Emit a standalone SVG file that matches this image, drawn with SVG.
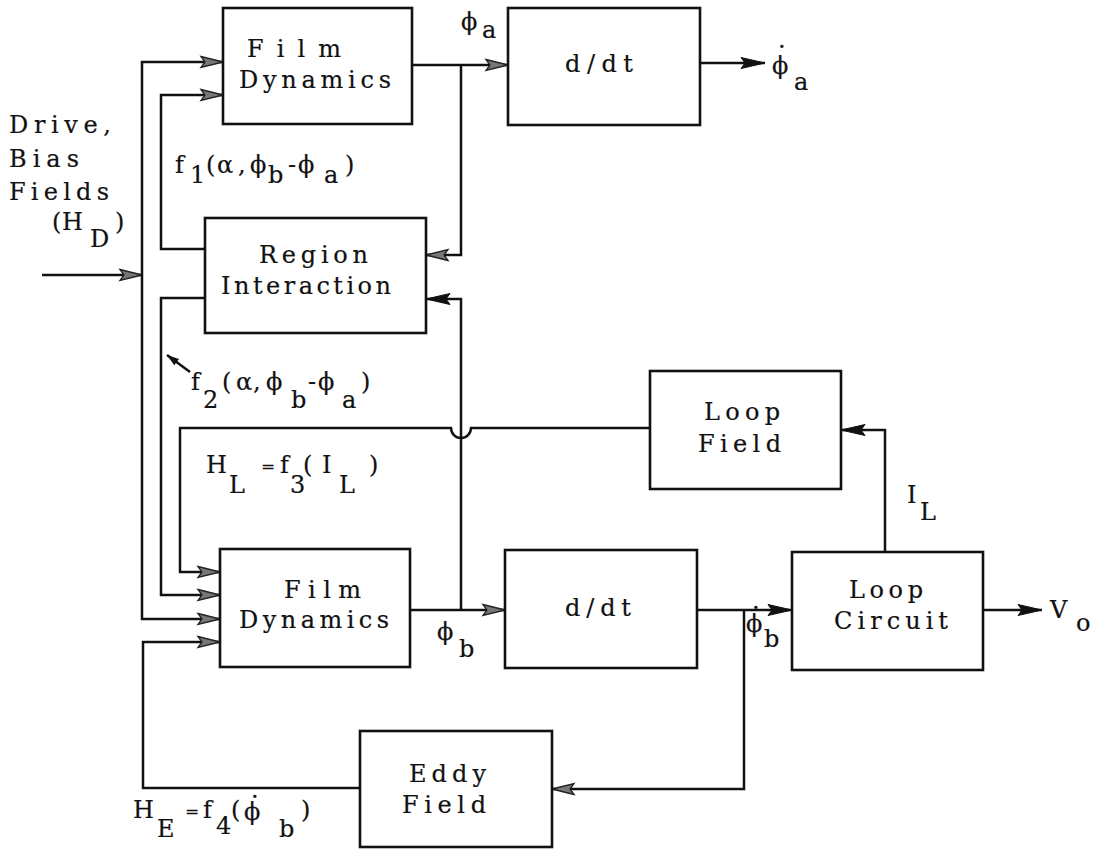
<svg xmlns="http://www.w3.org/2000/svg" width="1100" height="849" viewBox="0 0 1100 849">
<style>
.box{fill:none;stroke:#111;stroke-width:2.6}
.ln{fill:none;stroke:#111;stroke-width:2.5}
.ga{marker-end:url(#ag)}
.ba{marker-end:url(#ab)}
.t{font-family:"DejaVu Serif","Liberation Serif",serif;font-size:24px;fill:#111;stroke:#111;stroke-width:0.2}
.eq{font-size:17px}
</style>
<defs>
<marker id="ag" markerUnits="userSpaceOnUse" markerWidth="24" markerHeight="14" refX="22" refY="6" orient="auto" overflow="visible">
<path d="M0,0.5 L22,6 L0,11.5 L4,6 z" fill="#777" stroke="#222" stroke-width="1.3"/>
</marker>
<marker id="ab" markerUnits="userSpaceOnUse" markerWidth="26" markerHeight="14" refX="24" refY="6" orient="auto" overflow="visible">
<path d="M0,0.5 L24,6 L0,11.5 L4,6 z" fill="#111" stroke="#111" stroke-width="1"/>
</marker>
<marker id="as" markerUnits="userSpaceOnUse" markerWidth="14" markerHeight="10" refX="12" refY="4" orient="auto" overflow="visible">
<path d="M0,0 L12,4 L0,8 z" fill="#111"/>
</marker>
</defs>
<rect width="1100" height="849" fill="#fff"/>

<g id="connectors">
<path class="ln ga" d="M42,275 H142"/>
<path class="ln ga" d="M142,275 V62 H223"/>
<path class="ln ga" d="M142,275 V619 H220"/>
<path class="ln ga" d="M205,249 H161 V95 H223"/>
<path class="ln ga" d="M205,298 H161 V595 H220"/>
<path class="ln ga" d="M650,428 H471 A10 10 0 0 1 451,428 H180 V572 H220"/>
<path class="ln ga" d="M412,65 H508"/>
<path class="ln ga" d="M461,65 V255 H426"/>
<path class="ln ba" d="M700,63 H765"/>
<path class="ln ga" d="M410,610 H505"/>
<path class="ln ba" d="M461,610 V299 H426"/>
<path class="ln ba" d="M697,610 H792"/>
<path class="ln ga" d="M744,610 V789 H552"/>
<path class="ln ga" d="M360,788 H143 V642 H220"/>
<path class="ln ba" d="M983,610 H1042"/>
<path class="ln ba" d="M885,552 V430 H841"/>
<path class="ln" style="marker-end:url(#as)" d="M190,372 L167,355"/>
</g>

<g id="film-dynamics-a">
<rect class="box" x="223" y="8" width="189" height="116"/>
<text class="t" x="247" y="57" textLength="94" lengthAdjust="spacing">Film</text>
<text class="t" x="239" y="88" textLength="152" lengthAdjust="spacing">Dynamics</text>
</g>
<g id="ddt-a">
<rect class="box" x="508" y="8" width="192" height="117"/>
<text class="t" x="565" y="72" textLength="68" lengthAdjust="spacing">d/dt</text>
</g>
<g id="region-interaction">
<rect class="box" x="205" y="218" width="221" height="115"/>
<text class="t" x="259" y="263" textLength="109" lengthAdjust="spacing">Region</text>
<text class="t" x="221" y="294" textLength="170" lengthAdjust="spacing">Interaction</text>
</g>
<g id="loop-field">
<rect class="box" x="650" y="371" width="191" height="118"/>
<text class="t" x="704" y="420" textLength="76" lengthAdjust="spacing">Loop</text>
<text class="t" x="698" y="452" textLength="83" lengthAdjust="spacing">Field</text>
</g>
<g id="film-dynamics-b">
<rect class="box" x="220" y="549" width="190" height="118"/>
<text class="t" x="284" y="598" textLength="77" lengthAdjust="spacing">Film</text>
<text class="t" x="239" y="628" textLength="150" lengthAdjust="spacing">Dynamics</text>
</g>
<g id="ddt-b">
<rect class="box" x="505" y="550" width="192" height="118"/>
<text class="t" x="565" y="616" textLength="66" lengthAdjust="spacing">d/dt</text>
</g>
<g id="loop-circuit">
<rect class="box" x="792" y="552" width="191" height="118"/>
<text class="t" x="849" y="598" textLength="74" lengthAdjust="spacing">Loop</text>
<text class="t" x="834" y="629" textLength="114" lengthAdjust="spacing">Circuit</text>
</g>
<g id="eddy-field">
<rect class="box" x="360" y="731" width="192" height="116"/>
<text class="t" x="409" y="782" textLength="77" lengthAdjust="spacing">Eddy</text>
<text class="t" x="402" y="813" textLength="84" lengthAdjust="spacing">Field</text>
</g>

<g id="labels">
<text class="t" x="9" y="133" textLength="102" lengthAdjust="spacing">Drive,</text>
<text class="t" x="9" y="167" textLength="70" lengthAdjust="spacing">Bias</text>
<text class="t" x="9" y="200" textLength="100" lengthAdjust="spacing">Fields</text>
<text class="t"><tspan x="52" y="230">(</tspan><tspan x="62" y="230">H</tspan><tspan x="90" y="247">D</tspan><tspan x="115" y="230">)</tspan></text>

<text class="t"><tspan x="461" y="30">ϕ</tspan><tspan x="482" y="38">a</tspan></text>
<text class="t"><tspan x="778" y="48">.</tspan><tspan x="772" y="74">ϕ</tspan><tspan x="794" y="90">a</tspan></text>

<text class="t"><tspan x="175" y="173">f</tspan><tspan x="190" y="183">1</tspan><tspan x="206" y="173">(</tspan><tspan x="217" y="173">α</tspan><tspan x="238" y="173">,</tspan><tspan x="250" y="173">ϕ</tspan><tspan x="268" y="183">b</tspan><tspan x="288" y="173">-</tspan><tspan x="298" y="173">ϕ</tspan><tspan x="324" y="183">a</tspan><tspan x="345" y="173">)</tspan></text>

<text class="t"><tspan x="191" y="390">f</tspan><tspan x="203" y="408">2</tspan><tspan x="222" y="390">(</tspan><tspan x="236" y="390">α</tspan><tspan x="253" y="390">,</tspan><tspan x="266" y="390">ϕ</tspan><tspan x="291" y="408">b</tspan><tspan x="308" y="390">-</tspan><tspan x="318" y="390">ϕ</tspan><tspan x="342" y="408">a</tspan><tspan x="361" y="390">)</tspan></text>

<text class="t"><tspan x="206" y="473">H</tspan><tspan x="229" y="493">L</tspan><tspan class="eq" x="261" y="472">=</tspan><tspan x="280" y="473">f</tspan><tspan x="290" y="493">3</tspan><tspan x="303" y="473">(</tspan><tspan x="322" y="473">I</tspan><tspan x="339" y="493">L</tspan><tspan x="369" y="473">)</tspan></text>

<text class="t"><tspan x="907" y="503">I</tspan><tspan x="920" y="520">L</tspan></text>

<text class="t"><tspan x="437" y="640">ϕ</tspan><tspan x="459" y="657">b</tspan></text>
<text class="t"><tspan x="752" y="609">.</tspan><tspan x="746" y="632">ϕ</tspan><tspan x="764" y="647">b</tspan></text>

<text class="t"><tspan x="1050" y="618">V</tspan><tspan x="1076" y="631">o</tspan></text>

<text class="t"><tspan x="133" y="818">H</tspan><tspan x="157" y="837">E</tspan><tspan class="eq" x="185" y="817">=</tspan><tspan x="203" y="818">f</tspan><tspan x="216" y="834">4</tspan><tspan x="231" y="818">(</tspan><tspan x="251" y="798">.</tspan><tspan x="244" y="820">ϕ</tspan><tspan x="279" y="837">b</tspan><tspan x="301" y="818">)</tspan></text>
</g>
</svg>
